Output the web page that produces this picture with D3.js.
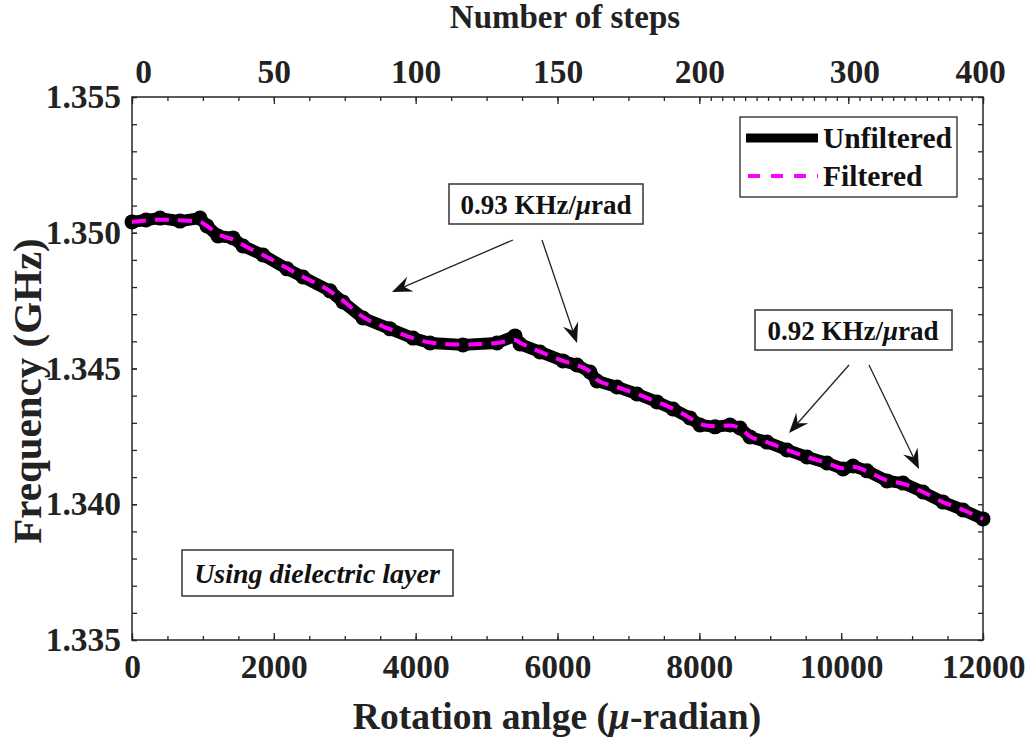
<!DOCTYPE html>
<html><head><meta charset="utf-8">
<script src="https://cdn.jsdelivr.net/npm/d3@7"></script>
<style>
body{margin:0;background:#fff;}
svg{display:block;font-family:"Liberation Serif","Times New Roman",serif;font-weight:bold;}
</style></head>
<body><svg id="c" width="1030" height="741"></svg>
<script>
// ---- data ----
const angle = [0,197,395,677,959,1058,1213,1424,1565,1847,2186,2411,2792,2975,3257,3638,3962,4202,4667,5147,5401,5471,5753,6077,6275,6458,6557,6839,7121,7403,7629,7868,8009,8221,8433,8574,8715,8954,9236,9518,9800,10026,10167,10364,10646,10872,11154,11436,11718,12000];
const unfiltered = [1.35040,1.35047,1.35054,1.35043,1.35054,1.35025,1.34988,1.34981,1.34951,1.34918,1.34867,1.34837,1.34786,1.34745,1.34686,1.34646,1.34612,1.34594,1.34587,1.34594,1.34620,1.34590,1.34561,1.34528,1.34513,1.34487,1.34454,1.34432,1.34406,1.34377,1.34351,1.34318,1.34292,1.34285,1.34292,1.34281,1.34248,1.34229,1.34200,1.34174,1.34152,1.34130,1.34141,1.34123,1.34086,1.34078,1.34045,1.34008,1.33979,1.33946];
const filtered = [1.35040,1.35045,1.35048,1.35046,1.35040,1.35025,1.34995,1.34975,1.34955,1.34918,1.34870,1.34838,1.34785,1.34750,1.34690,1.34645,1.34612,1.34596,1.34588,1.34594,1.34605,1.34595,1.34562,1.34528,1.34512,1.34488,1.34458,1.34432,1.34406,1.34377,1.34352,1.34318,1.34295,1.34287,1.34290,1.34280,1.34250,1.34229,1.34200,1.34174,1.34152,1.34133,1.34138,1.34122,1.34088,1.34076,1.34045,1.34008,1.33979,1.33946];
const xTicks = [0,2000,4000,6000,8000,10000,12000];
const yTicks = [1.335,1.340,1.345,1.350,1.355];
const stepTicks = [0,50,100,150,200,300,400];
const stepAnchorSteps = [0,200,300,400];
const stepAnchorAngle = [0,8000,10100,12000];

// ---- layout ----
const svg = d3.select("#c");
const L=132,R=983,T=97,B=640;
const x = d3.scaleLinear().domain([0,12000]).range([L,R]);
const y = d3.scaleLinear().domain([1.335,1.355]).range([B,T]);
const stepToAngle = d3.scaleLinear().domain(stepAnchorSteps).range(stepAnchorAngle);
const axisColor="#262626";

function styleAxis(g){
  g.select(".domain").remove();
  g.selectAll("line").attr("stroke",axisColor).attr("stroke-width",1.3);
  g.selectAll("text").attr("fill","#222").style("font-family",'"Liberation Serif",serif').style("font-weight","bold").style("font-size","33.5px");
}
const minorX = d3.range(0,12001,500);
const minorY = d3.range(0,21).map(i=>1.335+i*0.001);

// bottom
svg.append("g").attr("transform",`translate(0,${B})`)
  .call(d3.axisBottom(x).tickValues(minorX).tickSize(-4).tickFormat("")).call(styleAxis);
svg.append("g").attr("transform",`translate(0,${B})`)
  .call(d3.axisBottom(x).tickValues(xTicks).tickSize(-7).tickPadding(14).tickFormat(d3.format("d"))).call(styleAxis);
// left
svg.append("g").attr("transform",`translate(${L},0)`)
  .call(d3.axisLeft(y).tickValues(minorY).tickSize(-5).tickFormat("")).call(styleAxis);
svg.append("g").attr("transform",`translate(${L},0)`)
  .call(d3.axisLeft(y).tickValues(yTicks).tickSize(-5).tickPadding(11).tickFormat(d3.format(".3f"))).call(styleAxis);
// right
svg.append("g").attr("transform",`translate(${R},0)`)
  .call(d3.axisRight(y).tickValues(minorY).tickSize(-5).tickFormat("")).call(styleAxis);
// top (steps)
const topMinor = d3.range(0,200.01,12.5).concat(d3.range(1,13).map(i=>200+i*100/13)).concat(d3.range(0,12).map(i=>300+i*100/12)).concat([400]);
const topX = s => x(stepToAngle(s));
const pix = d3.scaleLinear().domain([L,R]).range([L,R]);
svg.append("g").attr("transform",`translate(0,${T})`)
  .call(d3.axisTop(pix).tickValues(topMinor.map(topX)).tickSize(-4).tickFormat("")).call(styleAxis);
const topG = svg.append("g").attr("transform",`translate(0,${T})`)
  .call(d3.axisTop(pix).tickValues(stepTicks.map(topX)).tickSize(-7).tickPadding(14).tickFormat((d,i)=>String(stepTicks[i]))).call(styleAxis);
topG.selectAll("text").filter((d,i)=>i===0).attr("dx",11);
topG.selectAll("text").filter((d,i)=>i===5).attr("dx",6);
topG.selectAll("text").filter((d,i)=>i===6).attr("dx",-3);

// frame
svg.append("rect").attr("x",L).attr("y",T).attr("width",R-L).attr("height",B-T)
  .attr("fill","none").attr("stroke",axisColor).attr("stroke-width",1.5);

// ---- lines ----
const pts = angle.map((a,i)=>({a,u:unfiltered[i],f:filtered[i]}));
const lineU = d3.line().x(d=>x(d.a)).y(d=>y(d.u));
const lineF = d3.line().x(d=>x(d.a)).y(d=>y(d.f)).curve(d3.curveMonotoneX);
svg.append("path").datum(pts).attr("d",lineU).attr("fill","none").attr("stroke","#000")
  .attr("stroke-width",12).attr("stroke-linejoin","round").attr("stroke-linecap","round");
svg.append("g").selectAll("circle").data(pts).join("circle")
  .attr("cx",d=>x(d.a)).attr("cy",d=>y(d.u)).attr("r",7.5).attr("fill","#000");
svg.append("path").datum(pts).attr("d",lineF).attr("fill","none").attr("stroke","#ff00ff")
  .attr("stroke-width",4).attr("stroke-dasharray","14,9");

// ---- legend ----
const lg = svg.append("g");
lg.append("rect").attr("x",740).attr("y",117).attr("width",217).attr("height",80)
  .attr("fill","#fff").attr("stroke",axisColor).attr("stroke-width",1.3);
lg.append("line").attr("x1",746).attr("x2",818).attr("y1",138).attr("y2",138).attr("stroke","#000").attr("stroke-width",9);
lg.append("line").attr("x1",748).attr("x2",818).attr("y1",176).attr("y2",176).attr("stroke","#ff00ff").attr("stroke-width",4).attr("stroke-dasharray","12,11");
lg.append("text").attr("x",823).attr("y",148).attr("font-size",29.5).attr("fill","#111").text("Unfiltered");
lg.append("text").attr("x",823).attr("y",186).attr("font-size",29.5).attr("fill","#111").text("Filtered");

// ---- annotations ----
function box(x0,y0,w,h,build){
  svg.append("rect").attr("x",x0).attr("y",y0).attr("width",w).attr("height",h)
    .attr("fill","#fff").attr("stroke","#333").attr("stroke-width",1.5);
  build();
}
function slopeLabel(cx,cy,num){
  const t = svg.append("text").attr("x",cx).attr("y",cy).attr("text-anchor","middle").attr("font-size",27).attr("fill","#111");
  t.append("tspan").text(num+" KHz/");
  t.append("tspan").attr("font-style","italic").text("\u03bc");
  t.append("tspan").text("rad");
}
box(449,184,194,40,()=>slopeLabel(546,214,"0.93"));
box(755,310,197,40,()=>slopeLabel(853,340,"0.92"));
box(182,550,271,46,()=>{
  svg.append("text").attr("x",317).attr("y",583).attr("text-anchor","middle").attr("font-size",28)
    .attr("font-style","italic").attr("fill","#111").text("Using dielectric layer");
});

function arrow(x1,y1,x2,y2){
  const ang=Math.atan2(y2-y1,x2-x1), len=20, wid=8, back=13;
  const bx=x2-len*Math.cos(ang), by=y2-len*Math.sin(ang);
  const nx=-Math.sin(ang), ny=Math.cos(ang);
  const mx=x2-back*Math.cos(ang), my=y2-back*Math.sin(ang);
  svg.append("line").attr("x1",x1).attr("y1",y1).attr("x2",mx).attr("y2",my).attr("stroke","#222").attr("stroke-width",1.3);
  svg.append("path").attr("d",`M${x2},${y2}L${bx+nx*wid},${by+ny*wid}L${mx},${my}L${bx-nx*wid},${by-ny*wid}Z`).attr("fill","#111");
}
arrow(513,240,392,292);
arrow(542,240,577,343);
arrow(849,365,789,433);
arrow(869,365,919,469);

// ---- axis titles ----
svg.append("text").attr("x",557).attr("y",729).attr("text-anchor","middle").attr("font-size",37.5).attr("fill","#222")
  .call(t=>{t.append("tspan").text("Rotation anlge (");t.append("tspan").attr("font-style","italic").text("\u03bc");t.append("tspan").text("-radian)");});
svg.append("text").attr("transform","translate(41,391) rotate(-90)").attr("text-anchor","middle").attr("font-size",41).attr("fill","#222").text("Frequency (GHz)");
svg.append("text").attr("x",565).attr("y",28).attr("text-anchor","middle").attr("font-size",33).attr("fill","#222").text("Number of steps");
</script></body></html>
